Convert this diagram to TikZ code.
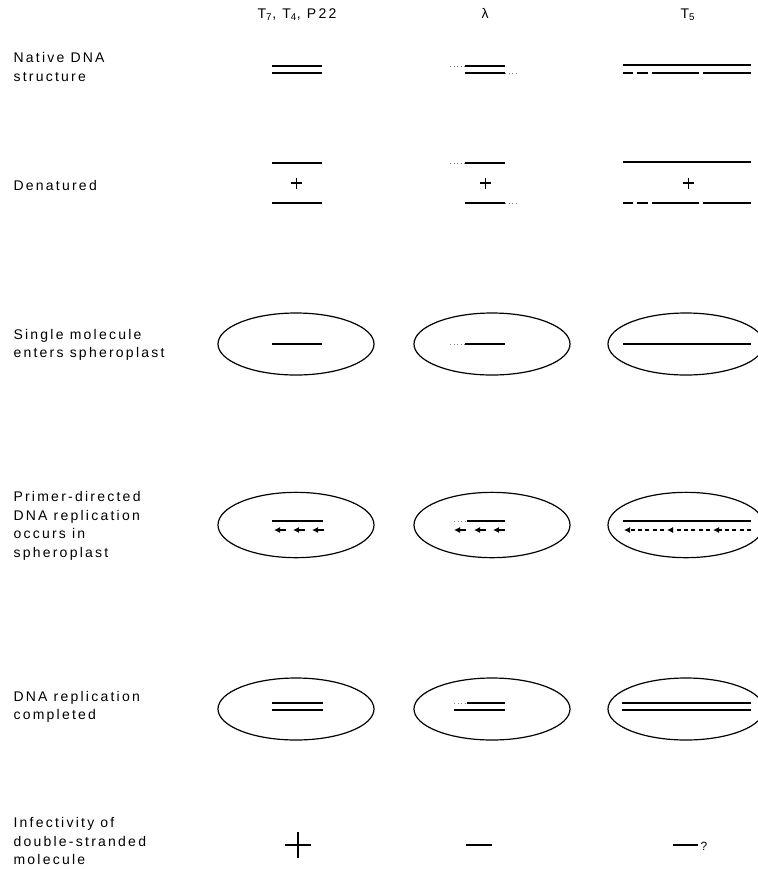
\documentclass[tikz,border=0pt]{standalone}
\usepackage{fontspec}
\setmainfont[LetterSpace=16]{Liberation Sans}
\usetikzlibrary{arrows.meta,shapes.geometric}
\tikzset{
  strand/.style={line width=1pt},
  loose/.style={line width=0.7pt, dotted, gray},
  cell/.style={draw, ellipse, line width=0.9pt, minimum width=117pt, minimum height=46.5pt, inner sep=0pt},
  rowtext/.style={anchor=west, align=left, inner sep=0pt, font=\fontsize{10.5}{14}\selectfont},
  headtext/.style={inner sep=0pt, font=\fontsize{10.5}{14}\selectfont},
  primer/.style={line width=0.8pt, -{Latex[length=4.5pt,width=4.5pt]}},
  primerlong/.style={line width=0.8pt, dash pattern=on 3pt off 2.5pt, -{Latex[length=4.5pt,width=4.5pt]}}
}
\begin{document}
\begin{tikzpicture}[x=0.75pt, y=-0.75pt, line width=0.8pt]
  \useasboundingbox (0,0) rectangle (758,869);
  \clip (0,0) rectangle (758,869);
  % column headings
  \node[headtext] (hdA) at (297,15) {T\textsubscript{7}, T\textsubscript{4}, P22};
  \node[headtext] (hdB) at (485,13) {λ};
  \node[headtext] (hdC) at (688,15) {T\textsubscript{5}};
  % row labels
  \node[rowtext] (lblnative) at (13,67) {Native DNA\\structure};
  \node[rowtext] (lbldenat) at (13,185) {Denatured};
  \node[rowtext] (lblsingle) at (13,345) {Single molecule\\enters spheroplast};
  \node[rowtext] (lblprimer) at (13,526) {Primer-directed\\DNA replication\\occurs in\\spheroplast};
  \node[rowtext] (lblcomplete) at (13,707) {DNA replication\\completed};
  \node[rowtext] (lblinfect) at (13,841) {Infectivity of\\double-stranded\\molecule};
  % native DNA structure
  \draw[strand] (272,66) -- (322,66);
  \draw[strand] (272,73) -- (322,73);
  \draw[loose] (450,66) -- (465,66);
  \draw[strand] (465,66) -- (505,66);
  \draw[strand] (465,73) -- (505,73);
  \draw[loose] (505,73) -- (518,73);
  \draw[strand] (623,65) -- (751,65);
  \draw[strand] (623,73) -- (633,73);
  \draw[strand] (637,73) -- (648,73);
  \draw[strand] (652,73) -- (699,73);
  \draw[strand] (703,73) -- (751,73);
  % denatured
  \draw[strand] (272,163) -- (322,163);
  \draw[strand] (272,203) -- (322,203);
  \draw (291,183) -- (302,183) (296.5,177.5) -- (296.5,188.5);
  \draw[loose] (450,163) -- (465,163);
  \draw[strand] (465,163) -- (505,163);
  \draw[strand] (465,203) -- (505,203);
  \draw[loose] (505,203) -- (518,203);
  \draw (480,183) -- (491,183) (485.5,177.5) -- (485.5,188.5);
  \draw[strand] (623,162) -- (751,162);
  \draw[strand] (623,203) -- (633,203);
  \draw[strand] (637,203) -- (648,203);
  \draw[strand] (652,203) -- (699,203);
  \draw[strand] (703,203) -- (751,203);
  \draw (683,183) -- (694,183) (688.5,177.5) -- (688.5,188.5);
  % single molecule enters spheroplast
  \node[cell] (cellA3) at (296,344) {};
  \node[cell] (cellB3) at (492,344) {};
  \node[cell] (cellC3) at (686,344) {};
  \draw[strand] (272,344) -- (322,344);
  \draw[loose] (450,344) -- (465,344);
  \draw[strand] (465,344) -- (505,344);
  \draw[strand] (623,344) -- (751,344);
  % primer-directed replication
  \node[cell, minimum height=49pt] (cellA4) at (296,525) {};
  \node[cell, minimum height=49pt] (cellB4) at (492,525) {};
  \node[cell, minimum height=49pt] (cellC4) at (686,525) {};
  \draw[strand] (272,521) -- (323,521);
  \foreach \h in {274,293,312} \draw[primer] (\h+12,530) -- (\h,530);
  \draw[loose] (454,521) -- (467,521);
  \draw[strand] (467,521) -- (505,521);
  \foreach \h in {454,474,493} \draw[primer] (\h+12,530) -- (\h,530);
  \draw[strand] (623,521) -- (751,521);
  \draw[primerlong] (664,530) -- (624,530);
  \draw[primerlong] (710,530) -- (667,530);
  \draw[primerlong] (751,530) -- (713,530);
  % replication completed
  \node[cell] (cellA5) at (296,709) {};
  \node[cell] (cellB5) at (492,709) {};
  \node[cell] (cellC5) at (686,709) {};
  \draw[strand] (272,703) -- (323,703);
  \draw[strand] (272,710) -- (323,710);
  \draw[loose] (454,703) -- (467,703);
  \draw[strand] (467,703) -- (505,703);
  \draw[strand] (454,710) -- (505,710);
  \draw[strand] (622,703) -- (751,703);
  \draw[strand] (622,710) -- (751,710);
  % infectivity
  \draw[line width=1.1pt] (285,845) -- (311,845) (298,832) -- (298,858);
  \draw[line width=1.1pt] (466,845) -- (492,845);
  \draw[line width=1.1pt] (673,845) -- (698,845);
  \node[headtext, anchor=west, font=\fontsize{9}{11}\selectfont] (qmark) at (700,846) {?};
\end{tikzpicture}
\end{document}
